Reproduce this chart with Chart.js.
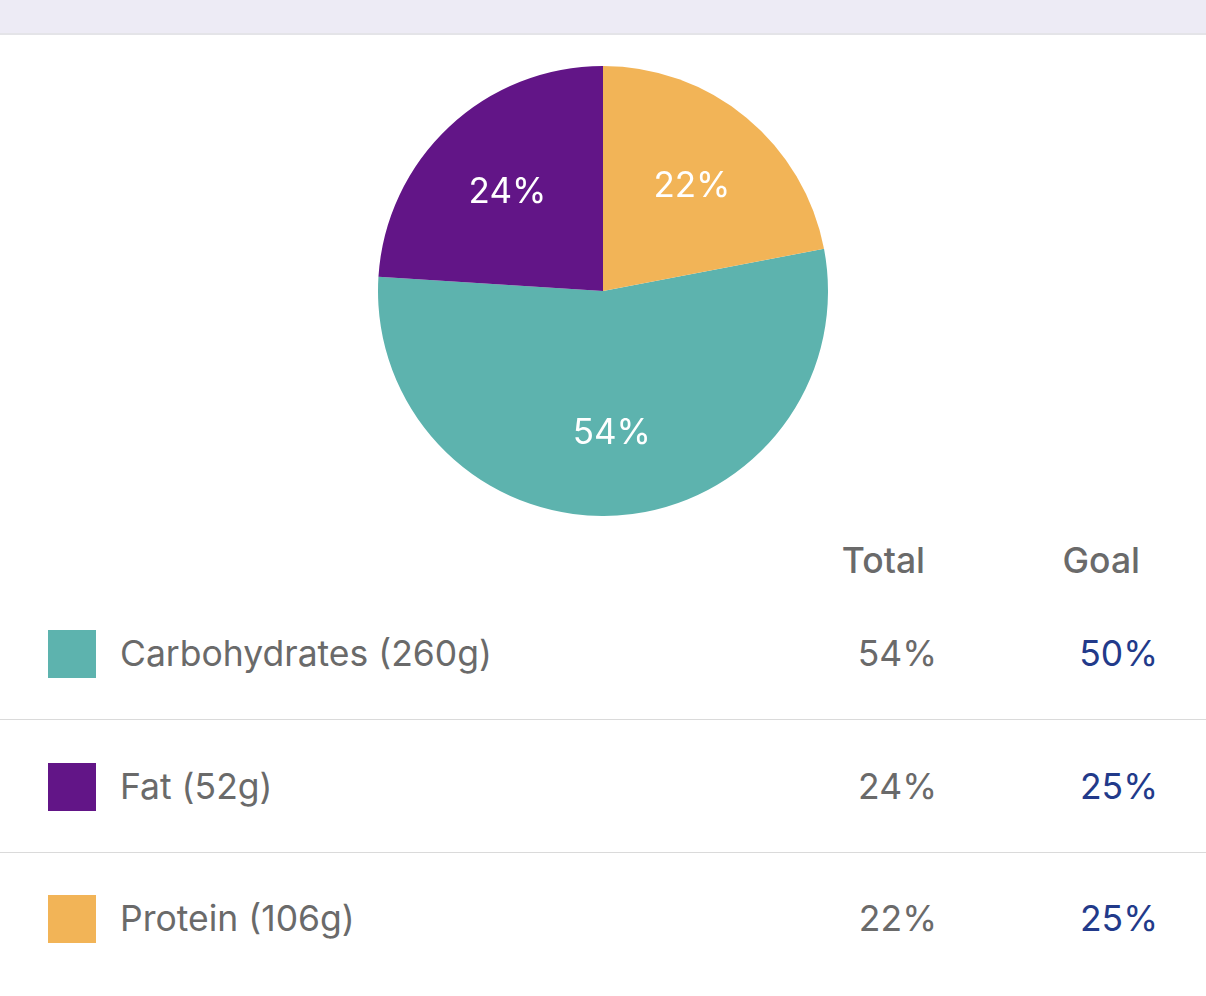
<!DOCTYPE html>
<html>
<head>
<meta charset="utf-8">
<script src="https://cdn.jsdelivr.net/npm/chart.js@4/dist/chart.umd.min.js"></script>
<style>
  html, body { margin: 0; padding: 0; background: #ffffff; }
  body { width: 1206px; height: 996px; position: relative; overflow: hidden; font-family: Inter, "Noto Sans", sans-serif; }
  #topbar { position: absolute; left: 0; top: 0; width: 1206px; height: 33px; background: #EDEBF5; border-bottom: 2px solid #E4E4E8; }
  #chartWrap { position: absolute; left: 0; top: 66px; width: 1206px; height: 450px; }
  .txt { position: absolute; font-size: 35.5px; line-height: 40px; height: 40px; color: #6a6a6a; white-space: nowrap; }
  .hdr { font-weight: 500; }
  .goal { color: #223A8A; }
  .sw { position: absolute; width: 48px; height: 48px; }
  .sep { position: absolute; left: 0; width: 1206px; height: 0; border-top: 1px solid #DADADA; }
</style>
</head>
<body>
<div id="topbar"></div>
<div id="chartWrap"><canvas id="c" width="1206" height="450"></canvas></div>
<div id="table"></div>
<script>
// ---- data ----
const categories = ['Carbohydrates', 'Fat', 'Protein'];
const grams = [260, 52, 106];
const totalPct = [54, 24, 22];
const goalPct = [50, 25, 25];
const colors = ['#5DB3AE', '#621587', '#F2B457'];
const columnHeaders = ['Total', 'Goal'];

// ---- slice label plugin ----
const sliceLabels = {
  id: 'sliceLabels',
  afterDatasetsDraw(chart) {
    const ctx = chart.ctx;
    const meta = chart.getDatasetMeta(0);
    const ds = chart.data.datasets[0];
    ctx.save();
    ctx.fillStyle = '#ffffff';
    ctx.font = '35px Inter, "Noto Sans", sans-serif';
    ctx.textAlign = 'center';
    ctx.textBaseline = 'middle';
    meta.data.forEach((arc, i) => {
      const p = arc.getProps(['x', 'y', 'startAngle', 'endAngle', 'outerRadius'], true);
      const mid = (p.startAngle + p.endAngle) / 2;
      const r = p.outerRadius * 0.62;
      ctx.fillText(ds.data[i] + '%', p.x + Math.cos(mid) * r, p.y + Math.sin(mid) * r + 3);
    });
    ctx.restore();
  }
};

new Chart(document.getElementById('c'), {
  type: 'pie',
  data: {
    labels: categories,
    datasets: [{
      data: totalPct,
      backgroundColor: colors,
      borderWidth: 0
    }]
  },
  options: {
    responsive: false,
    animation: false,
    rotation: 79.2,
    layout: { padding: 0 },
    plugins: { legend: { display: false }, tooltip: { enabled: false } }
  },
  plugins: [sliceLabels]
});

// ---- table ----
const table = document.getElementById('table');
function addText(text, cls, top, opts) {
  const d = document.createElement('div');
  d.className = 'txt ' + cls;
  d.textContent = text;
  d.style.top = top + 'px';
  if (opts.left !== undefined) d.style.left = opts.left + 'px';
  if (opts.right !== undefined) { d.style.right = (1206 - opts.right) + 'px'; d.style.textAlign = 'right'; }
  table.appendChild(d);
}
addText(columnHeaders[0], 'hdr', 541, { right: 925 });
addText(columnHeaders[1], 'hdr', 541, { right: 1140 });
categories.forEach((name, i) => {
  const cy = 654 + i * 132.5;
  const sw = document.createElement('div');
  sw.className = 'sw';
  sw.style.left = '48px';
  sw.style.top = (cy - 24) + 'px';
  sw.style.background = colors[i];
  table.appendChild(sw);
  addText(name + ' (' + grams[i] + 'g)', '', cy - 20, { left: 120 });
  addText(totalPct[i] + '%', '', cy - 20, { right: 937 });
  addText(goalPct[i] + '%', 'goal', cy - 20, { right: 1158 });
  if (i < categories.length - 1) {
    const s = document.createElement('div');
    s.className = 'sep';
    s.style.top = (cy + 65) + 'px';
    table.appendChild(s);
  }
});
</script>
</body>
</html>
